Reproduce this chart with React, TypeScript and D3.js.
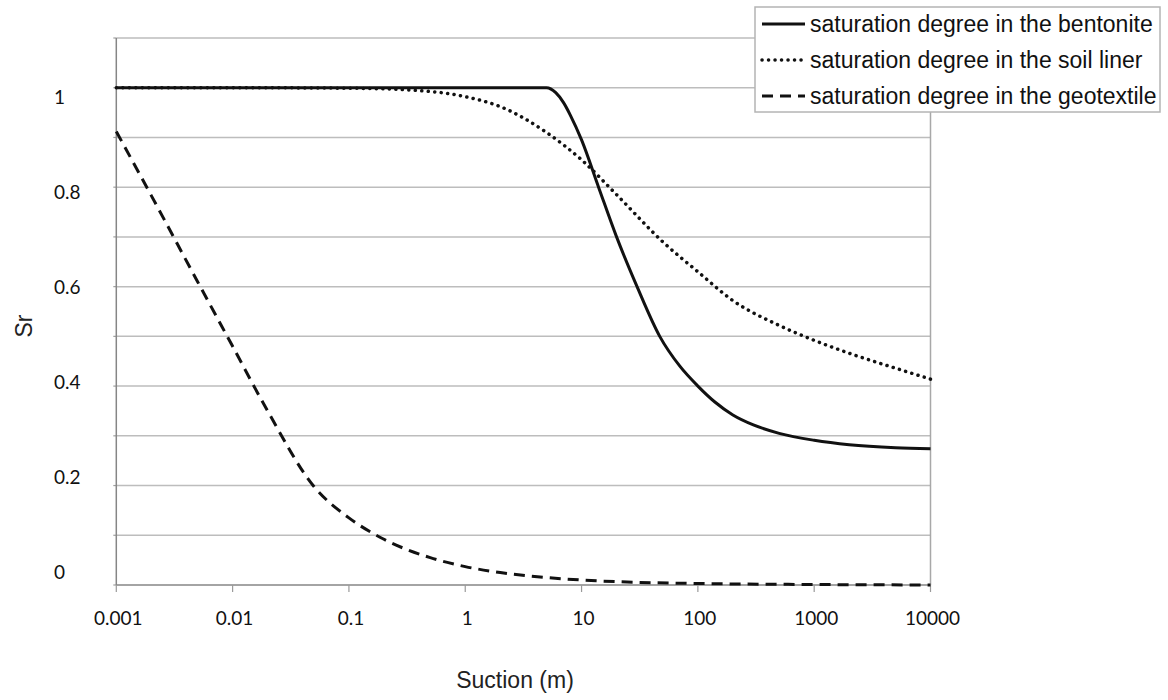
import React from "react";
import * as d3 from "d3";

// ---- data ----
const xTickValues = [0.001, 0.01, 0.1, 1, 10, 100, 1000, 10000];
const xTickLabels = ["0.001", "0.01", "0.1", "1", "10", "100", "1000", "10000"];
const yTickValues = [0, 0.2, 0.4, 0.6, 0.8, 1];
const yTickLabels = ["0", "0.2", "0.4", "0.6", "0.8", "1"];
const gridValues = [0, 0.1, 0.2, 0.3, 0.4, 0.5, 0.6, 0.7, 0.8, 0.9, 1.0, 1.1];

const bentoniteSuction = [0.001, 0.01, 0.1, 1, 3, 5, 6, 7, 8, 10, 14, 20, 30, 47, 70, 100, 140, 200, 300, 500, 1000, 2000, 5000, 10000];
const bentoniteSr = [1, 1, 1, 1, 1, 1, 0.99, 0.97, 0.945, 0.895, 0.8, 0.7, 0.6, 0.5, 0.44, 0.4, 0.368, 0.342, 0.322, 0.305, 0.291, 0.282, 0.276, 0.274];

const soilSuction = [0.001, 0.01, 0.1, 0.3, 1, 2, 5, 10, 20, 50, 100, 200, 500, 1000, 2000, 5000, 10000];
const soilSr = [1, 1, 0.999, 0.996, 0.982, 0.962, 0.91, 0.855, 0.785, 0.69, 0.63, 0.572, 0.522, 0.492, 0.466, 0.436, 0.414];

const geoSuction = [0.001, 0.002, 0.005, 0.01, 0.02, 0.05, 0.1, 0.2, 0.5, 1, 2, 5, 10, 100, 1000, 10000];
const geoSr = [0.912, 0.783, 0.61, 0.48, 0.35, 0.198, 0.135, 0.092, 0.055, 0.037, 0.025, 0.015, 0.01, 0.003, 0.001, 0.0];

const seriesNames = [
  "saturation degree in the bentonite",
  "saturation degree in the soil liner",
  "saturation degree in the geotextile",
];

const xTitle = "Suction (m)";
const yTitle = "Sr";

export default function App() {
  const W = 1168;
  const H = 700;
  const x = d3.scaleLog().domain([0.001, 10000]).range([116.3, 930.5]);
  const y = d3.scaleLinear().domain([0, 1.1]).range([585, 38]);
  const yLab = d3.scaleLinear().domain([0, 1]).range([572, 97]);

  const line = d3
    .line<[number, number]>()
    .x((d) => x(d[0]))
    .y((d) => y(d[1]))
    .curve(d3.curveMonotoneX);

  const bent = line(bentoniteSuction.map((s, i) => [s, bentoniteSr[i]]));
  const soil = line(soilSuction.map((s, i) => [s, soilSr[i]]));
  const geo = line(geoSuction.map((s, i) => [s, geoSr[i]]));

  const styles = [
    { dash: undefined as string | undefined, cap: "butt", w: 3 },
    { dash: "0.1 6.4", cap: "round", w: 3.5 },
    { dash: "11 7", cap: "butt", w: 3 },
  ];
  const legendRows = [24, 60, 96];

  const labelFont = "Lato, 'Open Sans', sans-serif";
  const titleFont = "'Liberation Sans', Arial, sans-serif";

  return (
    <svg width={W} height={H} style={{ position: "absolute", left: 0, top: 0, background: "#fff" }}>
      <rect x={0} y={0} width={W} height={H} fill="#fff" />
      {/* gridlines */}
      {gridValues.map((v, i) => (
        <line
          key={"g" + i}
          x1={x(0.001)}
          x2={x(10000)}
          y1={y(v)}
          y2={y(v)}
          stroke={i === 0 ? "#868686" : "#bdbdbd"}
          strokeWidth={1.5}
        />
      ))}
      {/* left tick stubs */}
      {gridValues.map((v, i) => (
        <line key={"lt" + i} x1={x(0.001) - 3} x2={x(0.001)} y1={y(v)} y2={y(v)} stroke="#a0a0a0" strokeWidth={1.2} />
      ))}
      {/* right border */}
      <line x1={x(10000)} x2={x(10000)} y1={y(1.1)} y2={y(0)} stroke="#a8a8a8" strokeWidth={1.5} />
      {/* left axis */}
      <line x1={x(0.001)} x2={x(0.001)} y1={y(1.1)} y2={y(0)} stroke="#868686" strokeWidth={1.5} />
      {/* x ticks */}
      {xTickValues.map((v, i) => (
        <line key={"xt" + i} x1={x(v)} x2={x(v)} y1={y(0)} y2={y(0) + 7} stroke="#9a9a9a" strokeWidth={1.2} />
      ))}
      {/* x tick labels */}
      {xTickValues.map((v, i) => (
        <text key={"xl" + i} x={x(v) + 2} y={625} textAnchor="middle" fontFamily={labelFont} fontSize={19} fill="#111">
          {xTickLabels[i]}
        </text>
      ))}
      {/* y tick labels */}
      {yTickValues.map((v, i) => (
        <text key={"yl" + i} x={54} y={yLab(v) + 7} textAnchor="start" fontFamily={labelFont} fontSize={19} fill="#111">
          {yTickLabels[i]}
        </text>
      ))}
      {/* series */}
      <path d={soil ?? ""} fill="none" stroke="#111" strokeWidth={styles[1].w} strokeDasharray={styles[1].dash} strokeLinecap="round" />
      <path d={geo ?? ""} fill="none" stroke="#111" strokeWidth={styles[2].w} strokeDasharray={styles[2].dash} />
      <path d={bent ?? ""} fill="none" stroke="#111" strokeWidth={styles[0].w} />
      {/* axis titles */}
      <text x={515} y={688} textAnchor="middle" fontFamily={titleFont} fontSize={23} fill="#222">
        {xTitle}
      </text>
      <text
        transform={`translate(32,326) rotate(-90)`}
        textAnchor="middle"
        fontFamily={titleFont}
        fontSize={23}
        fill="#222"
      >
        {yTitle}
      </text>
      {/* legend */}
      <rect x={755} y={7} width={405} height={105} fill="#fff" stroke="#b4b4b4" strokeWidth={1.5} />
      {seriesNames.map((n, i) => (
        <g key={"lg" + i}>
          <line
            x1={762}
            x2={805}
            y1={legendRows[i]}
            y2={legendRows[i]}
            stroke="#111"
            strokeWidth={styles[i].w}
            strokeDasharray={styles[i].dash}
            strokeLinecap={styles[i].cap as any}
          />
          <text x={810} y={legendRows[i] + 8} fontFamily={titleFont} fontSize={23} fill="#111">
            {n}
          </text>
        </g>
      ))}
    </svg>
  );
}
